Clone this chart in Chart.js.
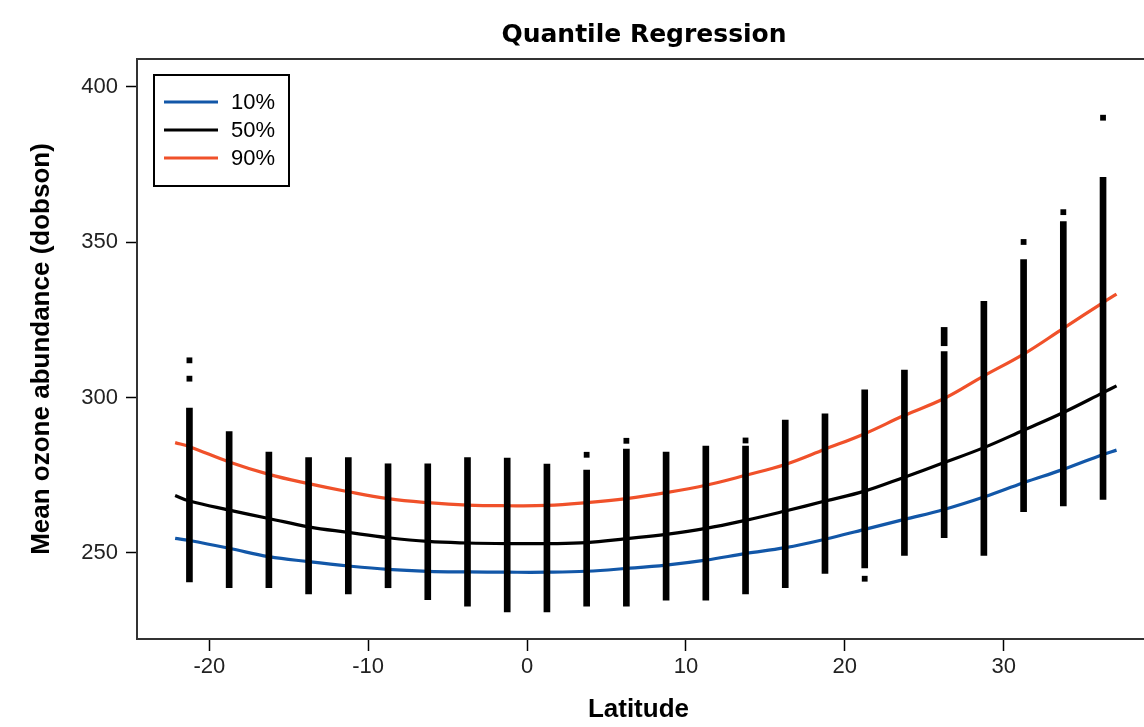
<!DOCTYPE html>
<html><head><meta charset="utf-8">
<script src="https://cdn.jsdelivr.net/npm/chart.js@4.4.1/dist/chart.umd.min.js"></script>
<style>html,body{margin:0;padding:0;background:#fff;overflow:hidden}#wrap{width:1144px;height:727px;position:relative}</style>
</head><body><div id="wrap"><canvas id="c" width="1144" height="727"></canvas></div>
<script>
// Observation columns (latitude bands) – visual extent of stacked points
const colLat  = [-21.25,-18.75,-16.25,-13.75,-11.25,-8.75,-6.25,-3.75,-1.25,1.25,3.75,6.25,8.75,11.25,13.75,16.25,18.75,21.25,23.75,26.25,28.75,31.25,33.75,36.25];
const colLow  = [240.7,238.8,238.8,236.8,236.8,238.8,235.0,232.9,231.0,231.0,232.9,232.9,234.8,234.8,236.8,238.8,243.4,245.2,249.2,254.9,249.2,263.3,265.1,267.2];
const colHigh = [296.6,289.1,282.5,280.7,280.7,278.7,278.7,280.7,280.5,278.6,276.7,283.4,282.5,284.4,284.4,292.8,294.8,302.5,308.9,314.8,331.0,344.4,356.7,370.9];
// Short detached pieces of columns
const segLat  = [26.25];
const segLow  = [316.7];
const segHigh = [322.6];
// Isolated observations
const outLat  = [-21.25,-21.25,3.75,6.25,13.75,21.25,31.25,33.75,36.25];
const outVal  = [312.0,306.1,281.6,286.1,286.2,241.7,350.1,359.7,390.1];
// Quantile regression curves
const lineLat = [-22.15,-21.25,-18.75,-16.25,-13.75,-11.25,-8.75,-6.25,-3.75,-1.25,1.25,3.75,6.25,8.75,11.25,13.75,16.25,18.75,21.25,23.75,26.25,28.75,31.25,33.75,36.25,37.1];
const q10 = [254.7,254.0,251.5,248.8,247.2,245.8,244.7,244.1,243.9,243.8,243.8,244.1,245.0,246.1,247.7,249.8,251.7,254.4,257.6,260.8,264.0,268.0,272.6,276.9,281.7,283.1];
const q50 = [268.5,266.7,263.8,261.1,258.4,256.6,254.9,253.7,253.2,253.0,253.0,253.3,254.6,256.0,257.9,260.5,263.5,266.7,269.9,274.4,279.1,283.9,289.5,295.2,301.6,303.8];
const q90 = [285.5,284.2,279.3,275.3,272.3,269.7,267.5,266.2,265.4,265.2,265.3,266.2,267.5,269.4,271.8,275.0,278.5,283.4,288.4,294.3,299.7,307.0,314.0,322.3,330.6,333.3];
const xTicks = [-20,-10,0,10,20,30];
const yTicks = [250,300,350,400];
const seriesLabels = ['10%','50%','90%'];
const seriesColors = ['#1257a8','#000000','#f0512a'];

const frame = {
  id:'frame',
  afterDraw(chart){
    const {ctx, chartArea:a, width} = chart;
    ctx.save();
    // top border and bottom axis line carried to the picture edge
    ctx.strokeStyle='#333'; ctx.lineWidth=2;
    ctx.beginPath(); ctx.moveTo(a.left, a.top); ctx.lineTo(width, a.top); ctx.stroke();
    ctx.beginPath(); ctx.moveTo(a.left, a.bottom); ctx.lineTo(width, a.bottom); ctx.stroke();
    // title
    ctx.fillStyle='#000';
    ctx.font='bold 25px "DejaVu Sans"';
    ctx.textAlign='center'; ctx.textBaseline='alphabetic';
    ctx.fillText('Quantile Regression', 644, 42);
    // legend
    const bx=154, by=75, bw=135, bh=111;
    ctx.fillStyle='#fff'; ctx.fillRect(bx,by,bw,bh);
    ctx.strokeStyle='#000'; ctx.lineWidth=2; ctx.strokeRect(bx,by,bw,bh);
    ctx.font='22px "Liberation Sans"'; ctx.textAlign='left'; ctx.textBaseline='middle';
    seriesLabels.forEach((lab,i)=>{
      const y = 102 + i*28;
      ctx.strokeStyle=seriesColors[i]; ctx.lineWidth=3;
      ctx.beginPath(); ctx.moveTo(164,y); ctx.lineTo(218,y); ctx.stroke();
      ctx.fillStyle='#000'; ctx.fillText(lab, 231, y+1);
    });
    ctx.restore();
  }
};

const lineSet = (arr,i)=>({type:'line', label:seriesLabels[i], data:lineLat.map((x,j)=>({x, y:arr[j]})),
  borderColor:seriesColors[i], backgroundColor:seriesColors[i], borderWidth:3.2, pointRadius:0, tension:0.4, fill:false, order:2});

new Chart(document.getElementById('c'), {
  type:'scatter',
  data:{datasets:[
    lineSet(q10,0), lineSet(q50,1), lineSet(q90,2),
    {type:'bar', label:'obs', data:colLat.map((x,i)=>({x, y:[colLow[i],colHigh[i]]})), backgroundColor:'#000', borderWidth:0, barThickness:6, grouped:false, order:1},
    {type:'bar', label:'seg', data:segLat.map((x,i)=>({x, y:[segLow[i],segHigh[i]]})), backgroundColor:'#000', borderWidth:0, barThickness:6, grouped:false, order:1},
    {type:'scatter', label:'out', data:outLat.map((x,i)=>({x, y:outVal[i]})), pointStyle:'rect', pointRadius:4.1, backgroundColor:'#000', borderWidth:0, order:1}
  ]},
  options:{
    responsive:false, animation:false, events:[],
    layout:{padding:{top:59,left:0,right:0,bottom:0}},
    plugins:{legend:{display:false}, tooltip:{enabled:false}, title:{display:false}},
    scales:{
      x:{type:'linear', min:-24.55, max:38.57, offset:false,
        afterBuildTicks:s=>{s.ticks = xTicks.map(v=>({value:v}));},
        afterFit:s=>{s.height=88;},
        grid:{offset:false, drawOnChartArea:false, drawTicks:true, tickLength:12, tickColor:'#000', tickWidth:1.5},
        border:{display:true, color:'#333', width:2},
        ticks:{font:{family:'Liberation Sans', size:22}, color:'#222', padding:3, maxRotation:0, autoSkip:false},
        title:{display:true, text:'Latitude', color:'#000', font:{family:'Liberation Sans', size:26, weight:'bold', lineHeight:1}, padding:{top:0,bottom:4}}
      },
      y:{type:'linear', min:222.3, max:409.0,
        afterBuildTicks:s=>{s.ticks = yTicks.map(v=>({value:v}));},
        afterFit:s=>{s.width=137;},
        grid:{offset:false, drawOnChartArea:false, drawTicks:true, tickLength:11, tickColor:'#000', tickWidth:1.5},
        border:{display:true, color:'#333', width:2},
        ticks:{font:{family:'Liberation Sans', size:22}, color:'#222', padding:8},
        title:{display:true, text:'Mean ozone abundance (dobson)', color:'#000', font:{family:'Liberation Sans', size:26, weight:'bold', lineHeight:1}, padding:{top:29,bottom:0}}
      }
    }
  },
  plugins:[frame]
});
</script></body></html>
